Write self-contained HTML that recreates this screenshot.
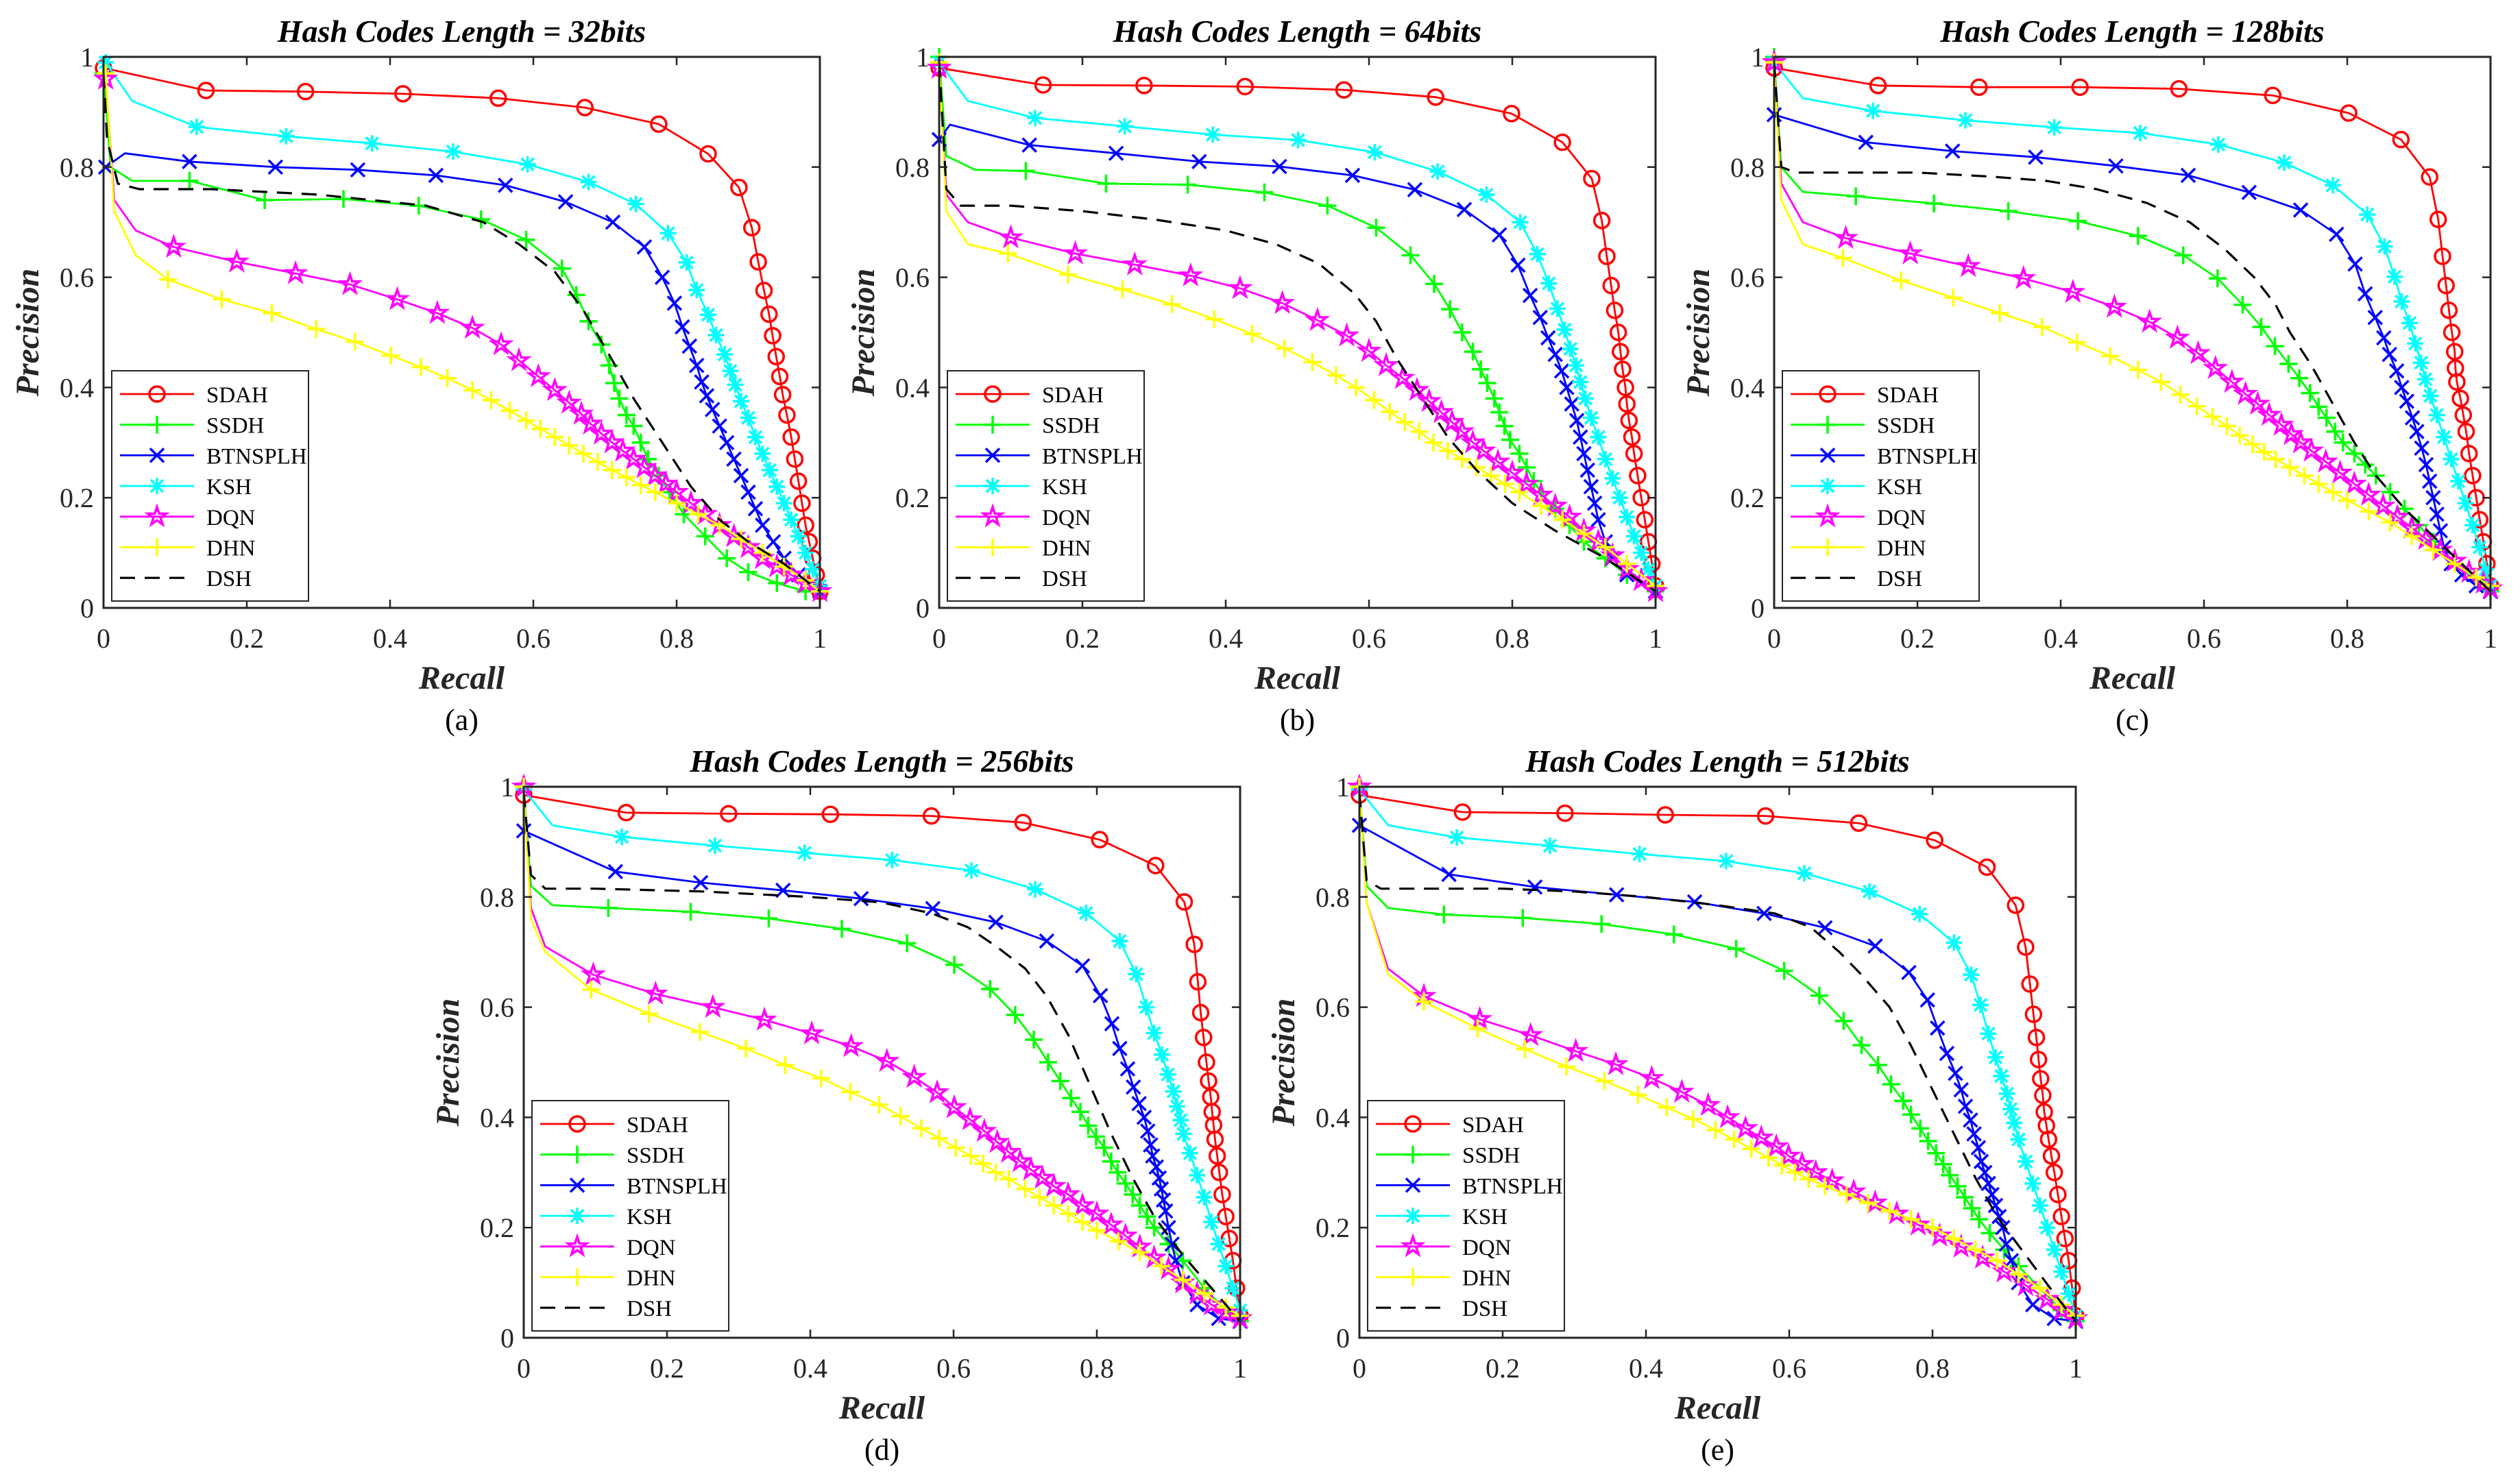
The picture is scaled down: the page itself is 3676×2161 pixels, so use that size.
<!DOCTYPE html>
<html><head><meta charset="utf-8"><style>
html,body{margin:0;padding:0;background:#fff;}
svg{display:block;}
</style></head><body>
<svg id="fig" xmlns="http://www.w3.org/2000/svg" width="3676" height="2161" viewBox="0 0 3676 2161" style="background:#fff"></svg>
<script>
// ---- data: [recall, precision] pairs per series per panel ----
const seriesNames = ["SDAH","SSDH","BTNSPLH","KSH","DQN","DHN","DSH"];
const xTickLabels = ["0","0.2","0.4","0.6","0.8","1"];
const yTickLabels = ["0","0.2","0.4","0.6","0.8","1"];
const panelTitles = ["Hash Codes Length = 32bits","Hash Codes Length = 64bits","Hash Codes Length = 128bits","Hash Codes Length = 256bits","Hash Codes Length = 512bits"];
const panelLetters = ["(a)","(b)","(c)","(d)","(e)"];

// panel (a)
const a_SDAH=[[0,0.98],[0.143,0.939],[0.282,0.937],[0.418,0.933],[0.551,0.925],[0.672,0.908],[0.775,0.878],[0.844,0.824],[0.887,0.763],[0.905,0.69],[0.914,0.628],[0.922,0.576],[0.929,0.533],[0.934,0.494],[0.939,0.456],[0.944,0.42],[0.948,0.387],[0.954,0.35],[0.96,0.31],[0.965,0.27],[0.97,0.23],[0.975,0.19],[0.98,0.15],[0.985,0.12],[0.99,0.09],[0.995,0.06],[1,0.03]];
const a_SSDH=[[0,0.97],[0.01,0.8],[0.04,0.775],[0.12,0.775],[0.225,0.74],[0.335,0.742],[0.44,0.73],[0.527,0.705],[0.59,0.668],[0.64,0.616],[0.66,0.568],[0.677,0.52],[0.695,0.478],[0.706,0.44],[0.713,0.408],[0.72,0.38],[0.73,0.35],[0.74,0.33],[0.75,0.3],[0.76,0.27],[0.775,0.24],[0.79,0.21],[0.81,0.17],[0.84,0.13],[0.87,0.09],[0.9,0.065],[0.94,0.045],[0.98,0.03],[1,0.03]];
const a_BTNSPLH=[[0.003,0.8],[0.03,0.825],[0.12,0.81],[0.24,0.8],[0.355,0.795],[0.464,0.785],[0.561,0.767],[0.645,0.737],[0.711,0.7],[0.755,0.655],[0.78,0.6],[0.797,0.553],[0.808,0.51],[0.818,0.475],[0.828,0.44],[0.835,0.41],[0.842,0.385],[0.85,0.36],[0.86,0.33],[0.87,0.3],[0.88,0.27],[0.89,0.24],[0.9,0.21],[0.91,0.18],[0.92,0.15],[0.935,0.12],[0.95,0.09],[0.97,0.06],[1,0.03]];
const a_KSH=[[0.003,0.99],[0.04,0.92],[0.13,0.873],[0.255,0.856],[0.375,0.843],[0.488,0.828],[0.592,0.805],[0.677,0.773],[0.743,0.733],[0.788,0.68],[0.814,0.627],[0.828,0.577],[0.844,0.532],[0.855,0.495],[0.867,0.46],[0.875,0.43],[0.882,0.405],[0.89,0.375],[0.9,0.345],[0.91,0.31],[0.92,0.28],[0.93,0.25],[0.94,0.22],[0.95,0.19],[0.96,0.16],[0.97,0.13],[0.98,0.1],[0.99,0.07],[1,0.04]];
const a_DQN=[[0.003,0.96],[0.015,0.74],[0.045,0.685],[0.098,0.655],[0.186,0.628],[0.268,0.607],[0.344,0.587],[0.41,0.56],[0.466,0.535],[0.515,0.508],[0.555,0.478],[0.58,0.449],[0.607,0.42],[0.63,0.395],[0.65,0.372],[0.667,0.352],[0.68,0.334],[0.695,0.316],[0.71,0.3],[0.725,0.285],[0.74,0.27],[0.755,0.255],[0.77,0.24],[0.785,0.225],[0.8,0.21],[0.82,0.19],[0.84,0.17],[0.86,0.15],[0.88,0.13],[0.9,0.11],[0.92,0.09],[0.94,0.075],[0.96,0.06],[0.98,0.045],[1,0.03]];
const a_DHN=[[0.003,0.97],[0.015,0.72],[0.045,0.64],[0.09,0.596],[0.165,0.56],[0.235,0.535],[0.297,0.506],[0.351,0.483],[0.401,0.458],[0.443,0.437],[0.48,0.417],[0.515,0.395],[0.541,0.377],[0.567,0.358],[0.59,0.34],[0.61,0.325],[0.63,0.31],[0.65,0.295],[0.67,0.28],[0.69,0.265],[0.71,0.25],[0.73,0.237],[0.75,0.223],[0.77,0.21],[0.8,0.19],[0.83,0.17],[0.86,0.15],[0.89,0.125],[0.92,0.1],[0.95,0.075],[0.98,0.05],[1,0.03]];
const a_DSH=[[0,0.97],[0.005,0.85],[0.02,0.77],[0.05,0.76],[0.15,0.76],[0.3,0.75],[0.45,0.73],[0.53,0.7],[0.58,0.66],[0.63,0.61],[0.67,0.54],[0.71,0.45],[0.74,0.38],[0.78,0.3],[0.82,0.22],[0.86,0.16],[0.9,0.12],[0.95,0.08],[1,0.03]];

// panel (b)
const b_SDAH=[[0,0.98],[0.145,0.949],[0.286,0.948],[0.427,0.946],[0.565,0.94],[0.693,0.927],[0.799,0.897],[0.87,0.845],[0.911,0.779],[0.925,0.703],[0.932,0.638],[0.938,0.585],[0.943,0.54],[0.948,0.5],[0.951,0.465],[0.954,0.433],[0.958,0.4],[0.96,0.37],[0.963,0.34],[0.967,0.31],[0.97,0.28],[0.975,0.24],[0.98,0.2],[0.985,0.16],[0.99,0.12],[0.995,0.08],[1,0.04]];
const b_SSDH=[[0,1],[0.01,0.82],[0.05,0.795],[0.121,0.793],[0.233,0.77],[0.347,0.768],[0.454,0.754],[0.542,0.73],[0.61,0.69],[0.658,0.64],[0.691,0.588],[0.713,0.542],[0.73,0.5],[0.745,0.465],[0.756,0.433],[0.765,0.408],[0.775,0.38],[0.782,0.355],[0.789,0.33],[0.797,0.305],[0.81,0.28],[0.82,0.255],[0.83,0.23],[0.84,0.21],[0.86,0.18],[0.88,0.15],[0.9,0.12],[0.93,0.09],[0.96,0.06],[1,0.03]];
const b_BTNSPLH=[[0,0.85],[0.015,0.877],[0.126,0.84],[0.247,0.825],[0.363,0.81],[0.475,0.801],[0.577,0.785],[0.664,0.759],[0.733,0.723],[0.782,0.677],[0.808,0.622],[0.825,0.567],[0.839,0.527],[0.85,0.49],[0.86,0.46],[0.869,0.43],[0.876,0.4],[0.883,0.37],[0.89,0.34],[0.895,0.31],[0.9,0.28],[0.905,0.25],[0.91,0.22],[0.915,0.19],[0.92,0.16],[0.93,0.12],[0.94,0.09],[0.96,0.06],[1,0.03]];
const b_KSH=[[0,0.99],[0.04,0.92],[0.134,0.889],[0.259,0.874],[0.382,0.859],[0.501,0.849],[0.608,0.827],[0.696,0.792],[0.764,0.75],[0.811,0.7],[0.835,0.642],[0.851,0.589],[0.863,0.543],[0.873,0.505],[0.881,0.47],[0.889,0.44],[0.895,0.41],[0.902,0.38],[0.91,0.345],[0.92,0.31],[0.93,0.27],[0.94,0.235],[0.95,0.2],[0.96,0.165],[0.97,0.13],[0.98,0.1],[0.99,0.07],[1,0.04]];
const b_DQN=[[0,0.98],[0.01,0.75],[0.04,0.7],[0.1,0.672],[0.19,0.643],[0.273,0.623],[0.351,0.603],[0.42,0.58],[0.479,0.553],[0.528,0.522],[0.569,0.494],[0.6,0.466],[0.624,0.44],[0.647,0.417],[0.667,0.395],[0.684,0.375],[0.701,0.355],[0.716,0.337],[0.73,0.32],[0.745,0.3],[0.76,0.285],[0.78,0.265],[0.8,0.245],[0.82,0.225],[0.84,0.205],[0.86,0.185],[0.88,0.165],[0.9,0.14],[0.92,0.12],[0.94,0.095],[0.96,0.07],[0.98,0.05],[1,0.03]];
const b_DHN=[[0,0.99],[0.01,0.72],[0.04,0.66],[0.096,0.643],[0.18,0.605],[0.256,0.578],[0.325,0.551],[0.384,0.524],[0.437,0.497],[0.482,0.471],[0.521,0.446],[0.554,0.422],[0.582,0.4],[0.607,0.377],[0.629,0.356],[0.65,0.337],[0.67,0.32],[0.69,0.3],[0.71,0.285],[0.73,0.27],[0.75,0.255],[0.77,0.24],[0.79,0.225],[0.81,0.21],[0.84,0.185],[0.87,0.16],[0.9,0.135],[0.93,0.11],[0.96,0.08],[1,0.04]];
const b_DSH=[[0,0.99],[0.01,0.76],[0.03,0.73],[0.1,0.73],[0.2,0.72],[0.3,0.705],[0.4,0.685],[0.47,0.66],[0.53,0.625],[0.58,0.57],[0.61,0.52],[0.64,0.45],[0.67,0.39],[0.71,0.31],[0.75,0.25],[0.8,0.19],[0.86,0.14],[0.93,0.09],[1,0.03]];

// panel (c)
const c_SDAH=[[0,0.98],[0.145,0.948],[0.286,0.945],[0.427,0.945],[0.565,0.942],[0.696,0.93],[0.802,0.898],[0.875,0.85],[0.915,0.782],[0.927,0.705],[0.933,0.638],[0.938,0.585],[0.942,0.54],[0.946,0.5],[0.95,0.465],[0.951,0.435],[0.953,0.41],[0.958,0.38],[0.962,0.35],[0.966,0.32],[0.97,0.28],[0.975,0.24],[0.98,0.2],[0.985,0.16],[0.99,0.12],[0.995,0.08],[1,0.04]];
const c_SSDH=[[0,1],[0.01,0.8],[0.04,0.755],[0.114,0.747],[0.223,0.734],[0.327,0.72],[0.424,0.702],[0.508,0.675],[0.571,0.64],[0.619,0.598],[0.654,0.55],[0.68,0.51],[0.699,0.475],[0.718,0.443],[0.733,0.417],[0.748,0.39],[0.76,0.365],[0.771,0.345],[0.783,0.32],[0.794,0.3],[0.81,0.28],[0.825,0.26],[0.84,0.24],[0.86,0.21],[0.88,0.18],[0.9,0.15],[0.92,0.12],[0.95,0.08],[0.98,0.05],[1,0.03]];
const c_BTNSPLH=[[0,0.895],[0.128,0.845],[0.249,0.829],[0.365,0.818],[0.477,0.802],[0.578,0.785],[0.663,0.754],[0.735,0.722],[0.785,0.678],[0.811,0.624],[0.825,0.57],[0.839,0.527],[0.851,0.49],[0.859,0.46],[0.869,0.43],[0.876,0.4],[0.883,0.375],[0.891,0.345],[0.897,0.32],[0.904,0.29],[0.91,0.26],[0.915,0.23],[0.92,0.2],[0.925,0.17],[0.93,0.14],[0.935,0.11],[0.945,0.08],[0.96,0.06],[0.98,0.04],[1,0.03]];
const c_KSH=[[0,0.99],[0.04,0.925],[0.138,0.902],[0.267,0.885],[0.391,0.872],[0.511,0.862],[0.62,0.841],[0.712,0.808],[0.78,0.767],[0.828,0.714],[0.852,0.656],[0.866,0.601],[0.876,0.556],[0.887,0.517],[0.895,0.48],[0.903,0.445],[0.909,0.415],[0.916,0.385],[0.925,0.35],[0.935,0.31],[0.945,0.27],[0.955,0.23],[0.965,0.19],[0.975,0.15],[0.985,0.11],[0.993,0.07],[1,0.04]];
const c_DQN=[[0,0.99],[0.01,0.77],[0.04,0.7],[0.1,0.671],[0.19,0.643],[0.271,0.62],[0.348,0.598],[0.417,0.573],[0.475,0.546],[0.524,0.519],[0.563,0.49],[0.592,0.462],[0.616,0.435],[0.639,0.41],[0.658,0.388],[0.675,0.37],[0.691,0.35],[0.708,0.332],[0.722,0.315],[0.735,0.3],[0.75,0.285],[0.77,0.265],[0.79,0.245],[0.81,0.225],[0.83,0.205],[0.85,0.185],[0.87,0.165],[0.89,0.145],[0.91,0.125],[0.93,0.105],[0.95,0.085],[0.97,0.065],[0.99,0.045],[1,0.035]];
const c_DHN=[[0,0.99],[0.01,0.74],[0.04,0.66],[0.096,0.635],[0.177,0.594],[0.25,0.563],[0.315,0.535],[0.374,0.51],[0.423,0.482],[0.469,0.457],[0.508,0.432],[0.54,0.41],[0.567,0.387],[0.59,0.366],[0.612,0.347],[0.632,0.33],[0.65,0.313],[0.668,0.297],[0.684,0.283],[0.7,0.27],[0.72,0.255],[0.74,0.24],[0.76,0.225],[0.78,0.21],[0.8,0.195],[0.83,0.175],[0.86,0.155],[0.89,0.13],[0.92,0.105],[0.95,0.08],[0.98,0.055],[1,0.04]];
const c_DSH=[[0,0.99],[0.01,0.8],[0.03,0.79],[0.1,0.79],[0.2,0.79],[0.3,0.783],[0.38,0.775],[0.45,0.76],[0.52,0.735],[0.58,0.7],[0.63,0.65],[0.67,0.6],[0.7,0.55],[0.72,0.5],[0.75,0.44],[0.78,0.37],[0.81,0.3],[0.84,0.24],[0.88,0.18],[0.92,0.13],[0.96,0.08],[1,0.03]];

// panel (d)
const d_SDAH=[[0,0.985],[0.143,0.953],[0.286,0.951],[0.428,0.95],[0.569,0.947],[0.697,0.935],[0.804,0.904],[0.882,0.857],[0.922,0.791],[0.936,0.714],[0.941,0.646],[0.945,0.59],[0.949,0.545],[0.953,0.5],[0.956,0.466],[0.959,0.437],[0.961,0.41],[0.963,0.386],[0.965,0.36],[0.968,0.33],[0.971,0.3],[0.975,0.26],[0.98,0.22],[0.985,0.18],[0.99,0.14],[0.995,0.09],[1,0.04]];
const d_SSDH=[[0,1],[0.01,0.82],[0.04,0.785],[0.118,0.78],[0.233,0.773],[0.342,0.761],[0.444,0.742],[0.535,0.716],[0.601,0.677],[0.651,0.633],[0.686,0.586],[0.712,0.541],[0.732,0.5],[0.749,0.466],[0.764,0.435],[0.777,0.41],[0.788,0.385],[0.799,0.365],[0.81,0.345],[0.82,0.32],[0.829,0.3],[0.84,0.28],[0.85,0.26],[0.86,0.24],[0.87,0.22],[0.88,0.2],[0.9,0.17],[0.92,0.14],[0.95,0.09],[0.98,0.05],[1,0.03]];
const d_BTNSPLH=[[0,0.92],[0.128,0.846],[0.247,0.826],[0.362,0.812],[0.471,0.797],[0.571,0.779],[0.659,0.754],[0.73,0.72],[0.78,0.675],[0.805,0.621],[0.821,0.57],[0.832,0.525],[0.843,0.488],[0.851,0.455],[0.859,0.425],[0.866,0.4],[0.871,0.375],[0.875,0.35],[0.878,0.33],[0.883,0.31],[0.887,0.29],[0.89,0.27],[0.893,0.25],[0.896,0.23],[0.9,0.2],[0.905,0.17],[0.91,0.14],[0.92,0.1],[0.94,0.06],[0.97,0.035],[1,0.03]];
const d_KSH=[[0,0.995],[0.04,0.93],[0.137,0.909],[0.267,0.893],[0.392,0.88],[0.514,0.867],[0.625,0.848],[0.714,0.814],[0.785,0.771],[0.832,0.72],[0.855,0.66],[0.869,0.6],[0.88,0.553],[0.891,0.514],[0.899,0.478],[0.907,0.447],[0.912,0.42],[0.917,0.395],[0.921,0.37],[0.93,0.335],[0.94,0.295],[0.95,0.255],[0.96,0.21],[0.97,0.17],[0.98,0.13],[0.99,0.09],[1,0.05]];
const d_DQN=[[0,1],[0.01,0.78],[0.03,0.71],[0.097,0.659],[0.184,0.624],[0.264,0.6],[0.336,0.577],[0.402,0.552],[0.457,0.529],[0.507,0.502],[0.545,0.473],[0.577,0.445],[0.601,0.418],[0.623,0.396],[0.643,0.375],[0.661,0.355],[0.677,0.337],[0.693,0.32],[0.708,0.305],[0.724,0.29],[0.74,0.275],[0.76,0.26],[0.78,0.24],[0.8,0.225],[0.82,0.205],[0.84,0.185],[0.86,0.165],[0.88,0.145],[0.9,0.125],[0.92,0.1],[0.94,0.08],[0.96,0.06],[0.98,0.045],[1,0.035]];
const d_DHN=[[0,1],[0.01,0.76],[0.03,0.7],[0.094,0.632],[0.175,0.588],[0.246,0.555],[0.31,0.525],[0.365,0.495],[0.415,0.471],[0.456,0.446],[0.496,0.423],[0.526,0.402],[0.555,0.38],[0.58,0.362],[0.603,0.345],[0.624,0.33],[0.641,0.316],[0.659,0.3],[0.677,0.288],[0.7,0.27],[0.72,0.255],[0.74,0.24],[0.76,0.225],[0.78,0.21],[0.8,0.195],[0.83,0.175],[0.86,0.155],[0.89,0.13],[0.92,0.105],[0.95,0.08],[0.98,0.055],[1,0.04]];
const d_DSH=[[0,0.99],[0.01,0.84],[0.03,0.815],[0.1,0.815],[0.25,0.81],[0.4,0.8],[0.5,0.79],[0.57,0.77],[0.62,0.745],[0.66,0.71],[0.7,0.67],[0.73,0.62],[0.76,0.55],[0.79,0.46],[0.82,0.37],[0.85,0.29],[0.88,0.22],[0.92,0.15],[0.96,0.09],[1,0.03]];

// panel (e)
const e_SDAH=[[0,0.985],[0.144,0.954],[0.287,0.952],[0.427,0.949],[0.567,0.947],[0.697,0.934],[0.803,0.903],[0.876,0.854],[0.916,0.785],[0.93,0.709],[0.936,0.642],[0.941,0.587],[0.945,0.545],[0.948,0.505],[0.951,0.47],[0.954,0.44],[0.956,0.41],[0.959,0.385],[0.962,0.36],[0.966,0.33],[0.97,0.3],[0.975,0.26],[0.98,0.22],[0.985,0.18],[0.99,0.14],[0.995,0.09],[1,0.04]];
const e_SSDH=[[0,1],[0.01,0.82],[0.04,0.78],[0.118,0.768],[0.228,0.762],[0.338,0.751],[0.439,0.732],[0.526,0.706],[0.593,0.666],[0.642,0.621],[0.676,0.575],[0.701,0.531],[0.724,0.495],[0.742,0.46],[0.759,0.43],[0.77,0.405],[0.783,0.38],[0.794,0.357],[0.805,0.335],[0.815,0.315],[0.824,0.295],[0.835,0.275],[0.845,0.255],[0.855,0.235],[0.865,0.215],[0.88,0.19],[0.9,0.16],[0.92,0.13],[0.95,0.09],[0.98,0.05],[1,0.03]];
const e_BTNSPLH=[[0,0.93],[0.125,0.841],[0.245,0.818],[0.359,0.804],[0.468,0.791],[0.565,0.77],[0.65,0.744],[0.72,0.711],[0.767,0.663],[0.793,0.613],[0.807,0.562],[0.82,0.516],[0.832,0.48],[0.84,0.45],[0.846,0.42],[0.853,0.395],[0.858,0.37],[0.864,0.345],[0.868,0.32],[0.873,0.3],[0.878,0.28],[0.883,0.26],[0.888,0.24],[0.893,0.22],[0.898,0.2],[0.903,0.17],[0.91,0.14],[0.92,0.1],[0.94,0.06],[0.97,0.035],[1,0.03]];
const e_KSH=[[0,0.995],[0.04,0.93],[0.136,0.908],[0.266,0.893],[0.391,0.878],[0.512,0.865],[0.621,0.843],[0.712,0.81],[0.782,0.769],[0.83,0.717],[0.854,0.659],[0.867,0.604],[0.878,0.552],[0.888,0.509],[0.896,0.475],[0.904,0.443],[0.909,0.415],[0.914,0.39],[0.92,0.36],[0.93,0.32],[0.94,0.28],[0.95,0.24],[0.96,0.2],[0.97,0.16],[0.98,0.12],[0.99,0.08],[1,0.04]];
const e_DQN=[[0,1],[0.01,0.79],[0.04,0.67],[0.09,0.62],[0.168,0.578],[0.239,0.549],[0.302,0.52],[0.358,0.496],[0.408,0.471],[0.45,0.446],[0.487,0.422],[0.514,0.4],[0.539,0.38],[0.561,0.363],[0.582,0.347],[0.599,0.33],[0.618,0.315],[0.637,0.3],[0.66,0.285],[0.69,0.265],[0.72,0.245],[0.75,0.225],[0.78,0.205],[0.81,0.185],[0.84,0.165],[0.87,0.145],[0.9,0.12],[0.93,0.095],[0.96,0.07],[0.98,0.05],[1,0.035]];
const e_DHN=[[0,1],[0.01,0.79],[0.04,0.66],[0.09,0.61],[0.165,0.561],[0.231,0.524],[0.289,0.492],[0.342,0.466],[0.389,0.441],[0.429,0.418],[0.466,0.397],[0.497,0.377],[0.523,0.36],[0.547,0.343],[0.571,0.327],[0.59,0.313],[0.608,0.3],[0.627,0.288],[0.65,0.275],[0.68,0.26],[0.71,0.245],[0.74,0.23],[0.77,0.215],[0.8,0.2],[0.83,0.18],[0.86,0.16],[0.89,0.14],[0.92,0.115],[0.95,0.09],[0.98,0.06],[1,0.04]];
const e_DSH=[[0,0.99],[0.01,0.83],[0.03,0.815],[0.1,0.815],[0.2,0.815],[0.3,0.81],[0.4,0.8],[0.5,0.785],[0.58,0.77],[0.63,0.745],[0.67,0.7],[0.7,0.66],[0.74,0.6],[0.77,0.53],[0.8,0.45],[0.83,0.37],[0.86,0.29],[0.89,0.22],[0.93,0.15],[0.97,0.08],[1,0.03]];

const panelData = [
  [a_SDAH,a_SSDH,a_BTNSPLH,a_KSH,a_DQN,a_DHN,a_DSH],
  [b_SDAH,b_SSDH,b_BTNSPLH,b_KSH,b_DQN,b_DHN,b_DSH],
  [c_SDAH,c_SSDH,c_BTNSPLH,c_KSH,c_DQN,c_DHN,c_DSH],
  [d_SDAH,d_SSDH,d_BTNSPLH,d_KSH,d_DQN,d_DHN,d_DSH],
  [e_SDAH,e_SSDH,e_BTNSPLH,e_KSH,e_DQN,e_DHN,e_DSH]
];

// ---- layout & style ----
const layout = [
  {L:151,T:83,W:1045,H:804},{L:1370,T:83,W:1045,H:804},{L:2588,T:83,W:1045,H:804},
  {L:764,T:1148,W:1045,H:804},{L:1983,T:1148,W:1045,H:804}
];
const colors = ["#ff0000","#00ff00","#0000ff","#00ffff","#ff00ff","#ffff00","#000000"];
const markerTypes = ["o","+","x","*","p","+",""];
const NS="http://www.w3.org/2000/svg";
const svg=document.getElementById('fig');
const FONT='"Liberation Serif", "Times New Roman", serif';

function mk(tag, attrs, parent){
  const e=document.createElementNS(NS,tag);
  for(const k in attrs) e.setAttribute(k,attrs[k]);
  (parent||svg).appendChild(e);
  return e;
}
function drawMarker(g,type,cx,cy,col){
  let e;
  const sw=3.5;
  if(type==="o"){
    e=mk('circle',{cx:cx,cy:cy,r:11,fill:'none',stroke:col,'stroke-width':sw},g);
  } else if(type==="+"){
    e=mk('path',{d:`M${cx-13},${cy}H${cx+13}M${cx},${cy-13}V${cy+13}`,stroke:col,'stroke-width':sw,fill:'none'},g);
  } else if(type==="x"){
    e=mk('path',{d:`M${cx-10},${cy-10}L${cx+10},${cy+10}M${cx-10},${cy+10}L${cx+10},${cy-10}`,stroke:col,'stroke-width':sw,fill:'none'},g);
  } else if(type==="*"){
    e=mk('path',{d:`M${cx-12},${cy}H${cx+12}M${cx},${cy-12}V${cy+12}M${cx-9},${cy-9}L${cx+9},${cy+9}M${cx-9},${cy+9}L${cx+9},${cy-9}`,stroke:col,'stroke-width':sw,fill:'none'},g);
  } else if(type==="p"){
    let pts=[];
    for(let i=0;i<10;i++){const r=i%2?5.5:14;const a=-Math.PI/2+i*Math.PI/5;pts.push((cx+r*Math.cos(a)).toFixed(1)+','+(cy+r*Math.sin(a)).toFixed(1));}
    e=mk('polygon',{points:pts.join(' '),fill:'none',stroke:col,'stroke-width':sw},g);
  }
  if(e){
    
    
  }
}

layout.forEach((P,pi)=>{
  const g=mk('g',{});
  
  
  const xs=r=>P.L+r*P.W;
  const ys=p=>P.T+(1-p)*P.H;

  const t=mk('text',{x:P.L+P.W/2,y:P.T-22,'text-anchor':'middle','font-family':FONT,'font-size':46,'font-weight':'bold','font-style':'italic',fill:'#000'},g);
  t.textContent=panelTitles[pi];
  
  

  const sg=mk('g',{},g);
  
  
  panelData[pi].forEach((pts,si)=>{
    const col=colors[si];
    const line=mk('polyline',{points:pts.map(q=>xs(q[0]).toFixed(1)+','+ys(q[1]).toFixed(1)).join(' '),fill:'none',stroke:col,'stroke-width':si===6?3.2:2.8,'stroke-linejoin':'round'},sg);
    if(si===6) line.setAttribute('stroke-dasharray','22 14');
    
    
    if(markerTypes[si]){
      pts.forEach(q=>{
        if(q[0]>0.005 && q[0]<0.06) return;
        drawMarker(sg,markerTypes[si],xs(q[0]),ys(q[1]),col);
      });
    }
  });

  const box=mk('rect',{x:P.L,y:P.T,width:P.W,height:P.H,fill:'none',stroke:'#262626','stroke-width':3},g);
  
  

  xTickLabels.forEach((lab,i)=>{
    const v=i/5, x=xs(v);
    const tk=mk('path',{d:`M${x},${P.T+P.H}v-12M${x},${P.T}v12`,stroke:'#262626','stroke-width':2.5},g);
    
    
    const tl=mk('text',{x:x,y:P.T+P.H+58,'text-anchor':'middle','font-family':FONT,'font-size':40,fill:'#262626'},g);
    tl.textContent=lab;
    
    
  });
  yTickLabels.forEach((lab,i)=>{
    const v=i/5, y=ys(v);
    const tk=mk('path',{d:`M${P.L},${y}h12M${P.L+P.W},${y}h-12`,stroke:'#262626','stroke-width':2.5},g);
    
    
    const tl=mk('text',{x:P.L-14,y:y+14,'text-anchor':'end','font-family':FONT,'font-size':40,fill:'#262626'},g);
    tl.textContent=lab;
    
    
  });

  const xl=mk('text',{x:P.L+P.W/2,y:P.T+P.H+118,'text-anchor':'middle','font-family':FONT,'font-size':48,'font-weight':'bold','font-style':'italic',fill:'#262626'},g);
  xl.textContent='Recall';
  
  
  const yx=P.L-95, yy=P.T+P.H/2;
  const yl=mk('text',{x:yx,y:yy,transform:`rotate(-90 ${yx} ${yy})`,'text-anchor':'middle','font-family':FONT,'font-size':48,'font-weight':'bold','font-style':'italic',fill:'#262626'},g);
  yl.textContent='Precision';
  
  

  const pl=mk('text',{x:P.L+P.W/2,y:P.T+P.H+178,'text-anchor':'middle','font-family':FONT,'font-size':44,fill:'#000'},g);
  pl.textContent=panelLetters[pi];
  
  

  const lg=mk('g',{},g);
  
  
  const LX=P.L+12, LY=P.T+P.H-346;
  mk('rect',{x:LX,y:LY,width:287,height:336,fill:'#fff',stroke:'#262626','stroke-width':2},lg);
  seriesNames.forEach((nm,si)=>{
    const ry=LY+34+si*44.7;
    const en=mk('g',{},lg);
    
    
    const ln=mk('line',{x1:LX+12,y1:ry,x2:LX+120,y2:ry,stroke:colors[si],'stroke-width':si===6?3.2:2.8},en);
    if(si===6) ln.setAttribute('stroke-dasharray','22 14');
    if(markerTypes[si]) drawMarker(en,markerTypes[si],LX+66,ry,colors[si]);
    const tx=mk('text',{x:LX+138,y:ry+12,'font-family':FONT,'font-size':33,fill:'#000'},en);
    tx.textContent=nm;
  });
});
</script>
</body></html>
